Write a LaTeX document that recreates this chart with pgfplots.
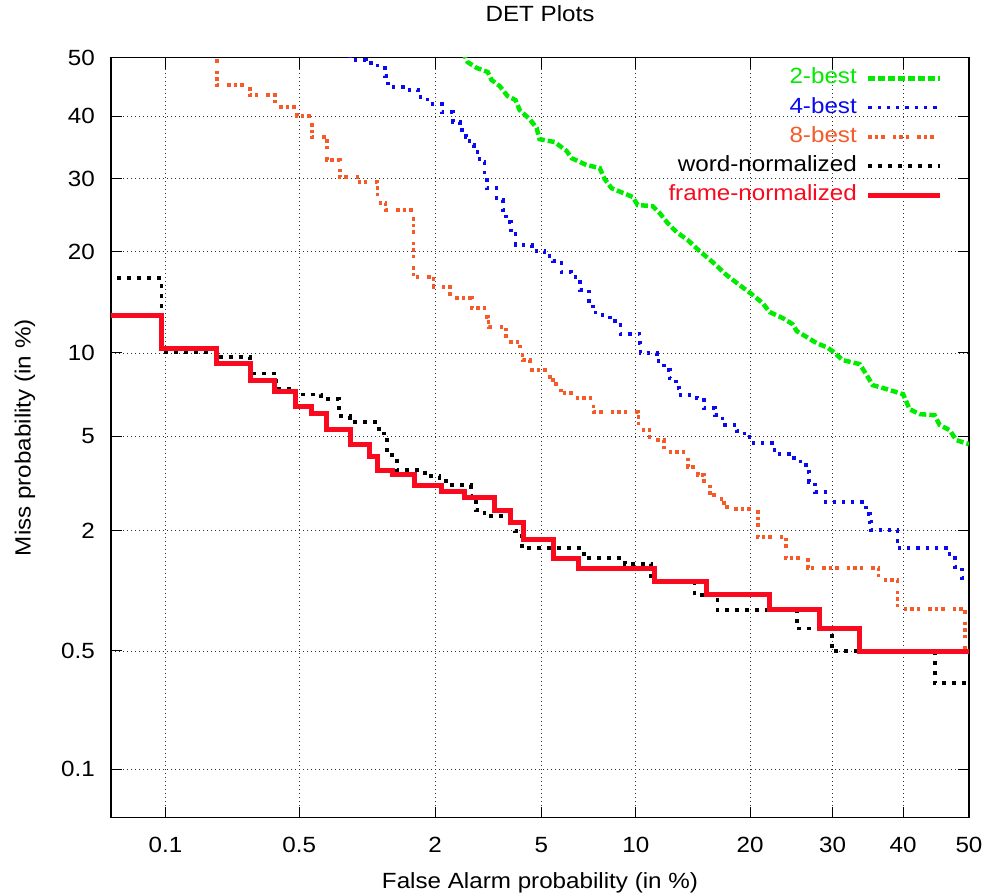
\documentclass[border=0pt]{standalone}
\usepackage{fontspec}
\setmainfont{Liberation Sans}[FakeStretch=1.1]
\usepackage{pgfplots}
\usepackage{pgfplotstable}
\pgfplotsset{compat=1.18}
\definecolor{cgreen}{RGB}{0,235,0}
\definecolor{cblue}{RGB}{10,10,240}
\definecolor{corange}{RGB}{245,90,40}
\definecolor{cred}{RGB}{250,10,30}

% DET data: false alarm (%) and miss (%) values
\pgfplotstableread{
fa miss
2.575 51
2.69 49.25
2.916 48.22
3.21 47.52
3.32 46.14
3.557 45.09
3.80 43.37
4.06 42.69
4.20 40.99
4.556 39.47
4.82 38.0
4.93 36.17
5.555 35.69
6.09 34.26
6.32 33.13
7.07 32.04
7.78 31.58
8.06 29.90
8.46 28.54
9.79 27.26
10.13 26.10
11.19 25.95
11.71 24.98
12.32 23.64
13.04 22.43
13.96 21.43
15.0 20.05
16.21 18.74
17.56 17.25
18.88 16.17
20.15 15.23
21.38 14.32
22.15 13.47
23.68 12.91
24.87 12.36
25.37 11.76
26.61 11.26
27.89 10.76
29.18 10.44
29.99 10.13
31.34 9.46
33.7 9.17
34.69 8.41
35.53 7.76
37.56 7.51
39.99 7.20
40.95 6.35
42.47 6.09
44.73 6.03
45.50 5.54
47.0 5.30
48.07 4.84
50 4.67
}\twobest

\pgfplotstableread{
fa miss
0.776 52
0.862 49.6
1.017 49.08
1.147 48.22
1.232 46.83
1.269 44.94
1.50 44.42
1.70 43.19
1.867 42.03
2.13 40.65
2.354 38.98
2.51 37.67
2.65 36.49
2.74 35.21
2.84 34.09
2.99 32.50
3.125 30.05
3.18 28.54
3.46 26.81
3.647 25.40
3.74 23.77
3.90 22.18
4.06 20.79
4.63 20.05
5.13 19.43
5.47 18.85
5.86 17.59
6.32 17.03
6.72 15.65
7.18 14.32
7.39 13.57
7.55 13.19
8.35 12.63
9.01 11.51
10.26 10.76
10.32 9.98
11.49 9.38
12.01 8.75
12.48 8.21
12.96 7.57
13.21 7.14
14.74 6.97
15.37 6.41
16.40 6.03
17.16 5.54
18.58 5.25
19.40 4.97
19.93 4.71
22.72 4.26
24.75 4.10
25.84 3.84
26.48 3.60
26.87 3.27
27.64 2.96
29.05 2.69
34.56 2.375
35.11 2.19
35.25 2.01
39.16 1.66
46.42 1.59
47.0 1.49
47.8 1.35
48.9 1.19
50 1.19
}\fourbest

\pgfplotstableread{
fa miss
0.192 52
0.192 45.26
0.284 43.53
0.379 41.56
0.49 40.0
0.574 36.49
0.675 32.82
0.776 30.21
0.955 29.44
1.147 26.38
1.243 25.40
1.635 17.03
1.975 15.97
2.29 14.82
2.79 13.85
3.125 13.0
3.235 12.1
3.74 10.84
4.20 10.06
4.30 9.46
4.555 8.75
5.34 8.08
5.60 7.69
5.82 7.26
6.47 6.97
7.44 6.19
10.19 5.30
10.96 4.84
12.01 4.34
13.96 3.77
14.83 3.50
15.37 3.24
15.93 2.88
17.06 2.66
17.56 2.50
20.82 1.87
24.05 1.49
26.74 1.335
36.38 1.165
39.16 0.834
49.34 0.5
50 0.5
}\eightbest

\pgfplotstableread{
fa miss
0.04 16.92
0.095 10.08
0.19 9.70
0.284 8.52
0.387 7.55
0.485 7.19
0.636 6.92
0.77 5.98
0.862 5.67
1.162 5.14
1.26 4.22
1.387 3.67
1.816 3.46
2.088 3.30
2.29 3.17
2.766 2.85
2.89 2.47
3.125 2.33
4.03 1.99
4.27 1.66
6.92 1.49
9.27 1.396
11.09 1.14
14.56 0.98
16.67 0.824
25.37 0.661
29.85 0.5
44.73 0.33
50 0.33
}\wordnorm

\pgfplotstableread{
fa miss
0.04 13.12
0.095 10.34
0.19 9.22
0.287 8.05
0.379 7.34
0.48 6.52
0.576 6.12
0.673 5.33
0.868 4.67
1.06 4.18
1.144 3.645
1.334 3.53
1.65 3.17
2.12 2.97
2.62 2.81
3.41 2.46
3.89 2.17
4.35 1.82
5.52 1.485
6.67 1.335
11.34 1.153
15.62 0.989
22.15 0.831
28.27 0.661
33.7 0.5
50 0.5
}\framenorm

\begin{document}
\begin{tikzpicture}[font=\fontsize{22}{26}\selectfont]
\useasboundingbox (-111pt,-78.3pt) rectangle (878pt,817.7pt);
\begin{axis}[
  at={(0,0)}, anchor=south west,
  width=858pt, height=760pt, scale only axis,
  declare function={
    tq(\p)=sqrt(-2*ln(\p/100));
    probit(\p)=-(tq(\p)-(2.515517+0.802853*tq(\p)+0.010328*tq(\p)^2)/(1+1.432788*tq(\p)+0.189269*tq(\p)^2+0.001308*tq(\p)^3));
  },
  xmin=-3.3, xmax=0, ymin=-3.3, ymax=0,
  xtick={-3.0902,-2.5758,-2.0537,-1.6449,-1.2816,-0.8416,-0.5244,-0.2533,0},
  xticklabels={0.1,0.5,2,5,10,20,30,40,50},
  ytick={-3.0902,-2.5758,-2.0537,-1.6449,-1.2816,-0.8416,-0.5244,-0.2533,0},
  yticklabels={0.1,0.5,2,5,10,20,30,40,50},
  tick align=inside,
  major tick length=11pt,
  every tick/.style={black, line width=1pt},
  axis line style={line width=1.2pt},
  grid=major,
  major grid style={black!80, line width=0.6pt, dash pattern=on 1pt off 3pt},
  xticklabel style={anchor=center, yshift=-27pt},
  yticklabel style={anchor=east, inner sep=0pt, xshift=-16pt},
  title={DET Plots},
  title style={at={(axis description cs:0.5,1.0496)}, anchor=center},
  xlabel={False Alarm probability (in \%)},
  xlabel style={at={(axis description cs:0.5,-0.0855)}, anchor=center},
  ylabel={Miss probability (in \%)},
  ylabel style={at={(axis description cs:-0.1002,0.5)}, anchor=center},
  legend plot pos=right,
  legend cell align=right,
  legend image code/.code={\draw[#1] (0pt,0pt) -- (36pt,0pt) -- (72pt,0pt);},
  legend style={draw=none, fill=none, at={(1,1)}, anchor=north east,
    xshift=-23pt, yshift=-9pt, row sep=10.2pt, column sep=9pt,
    nodes={inner sep=0pt, text height=15pt, text depth=4pt}},
]
\addplot[cgreen, line width=4.5pt, dash pattern=on 7pt off 3pt]
  table[x expr={probit(\thisrow{fa})}, y expr={probit(\thisrow{miss})}] {\twobest};
\addlegendentry{\textcolor{cgreen}{2-best}}
\addplot[cblue, const plot, line width=3.8pt, dash pattern=on 3.3pt off 6pt]
  table[x expr={probit(\thisrow{fa})}, y expr={probit(\thisrow{miss})}] {\fourbest};
\addlegendentry{\textcolor{cblue}{4-best}}
\addplot[corange, const plot, line width=3.8pt, dash pattern=on 3.5pt off 3pt on 3.5pt off 3pt on 3.5pt off 8pt]
  table[x expr={probit(\thisrow{fa})}, y expr={probit(\thisrow{miss})}] {\eightbest};
\addlegendentry{\textcolor{corange}{8-best}}
\addplot[black, const plot, line width=3.8pt, dash pattern=on 4pt off 6pt]
  table[x expr={probit(\thisrow{fa})}, y expr={probit(\thisrow{miss})}] {\wordnorm};
\addlegendentry{word-normalized}
\addplot[cred, const plot, line width=5pt]
  table[x expr={probit(\thisrow{fa})}, y expr={probit(\thisrow{miss})}] {\framenorm};
\addlegendentry{\textcolor{cred}{frame-normalized}}
\end{axis}
\end{tikzpicture}
\end{document}
